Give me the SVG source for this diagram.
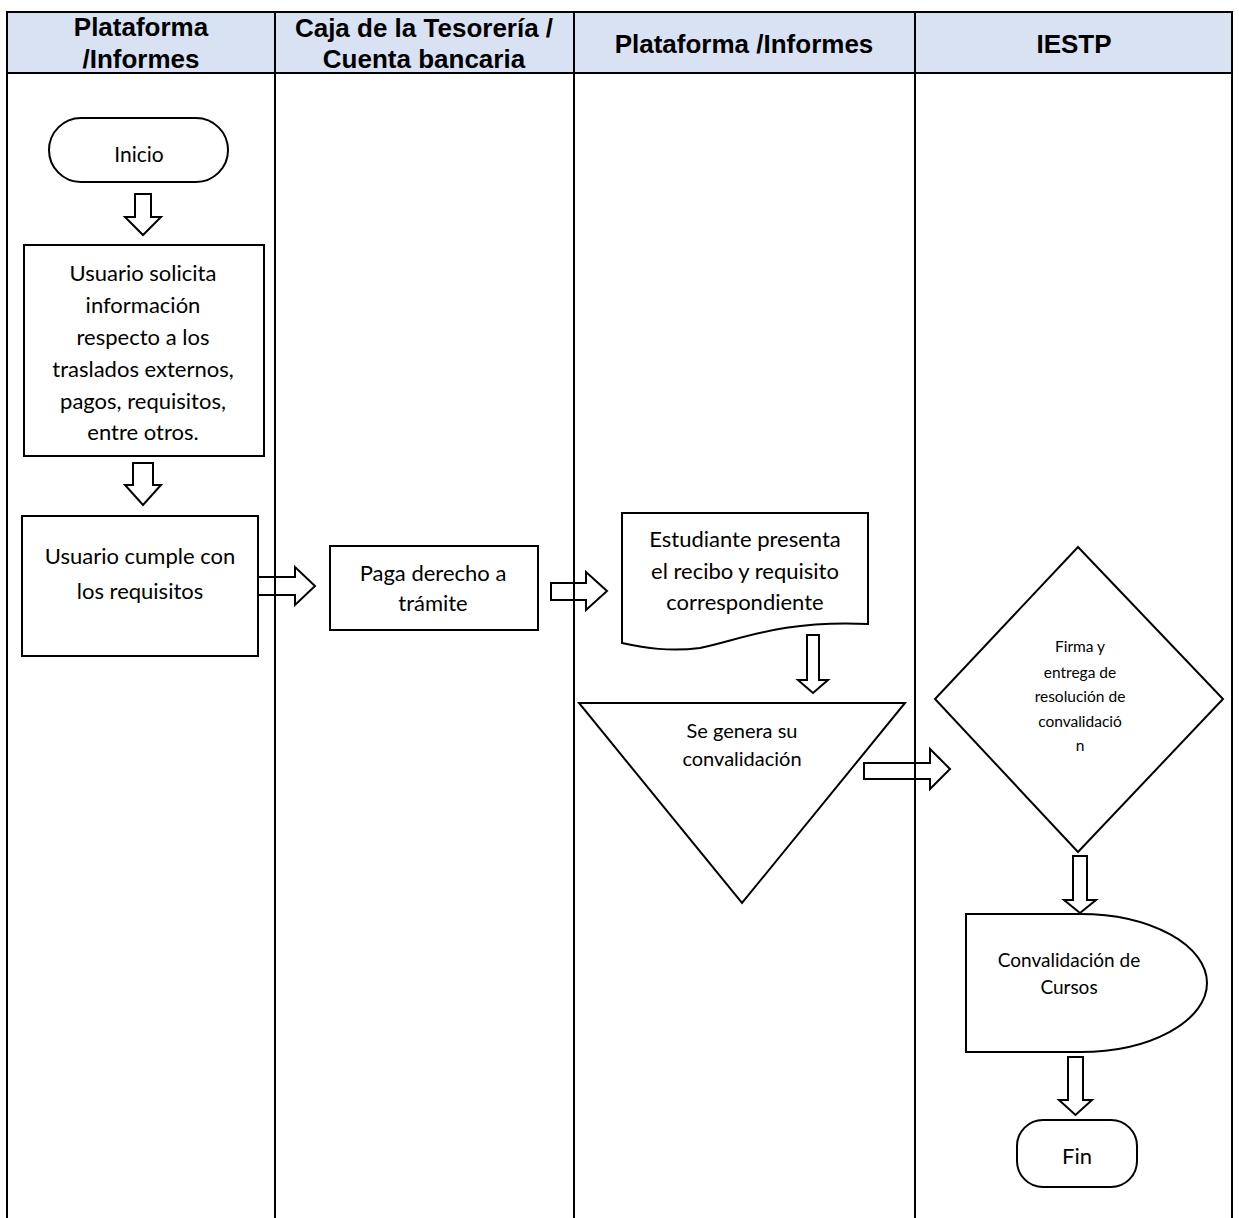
<svg xmlns="http://www.w3.org/2000/svg" width="1239" height="1218" viewBox="0 0 1239 1218">
  <style>
    .lane { stroke: #000; stroke-width: 2; fill: none; }
    .hdr { fill: #D9E2F3; }
    .htxt { font-family: "Liberation Sans", Arial, sans-serif; font-weight: bold; font-size: 26px; fill: #000; text-anchor: middle; }
    .shape { fill: #fff; stroke: #000; stroke-width: 2; }
    .arrow { fill: #fff; stroke: #000; stroke-width: 2; stroke-linejoin: miter; }
    .t22 { font-family: Lato, "Open Sans", sans-serif; font-size: 22px; fill: #000; text-anchor: middle; }
    .t20 { font-family: Lato, "Open Sans", sans-serif; font-size: 20px; fill: #000; text-anchor: middle; }
    .t19 { font-family: Lato, "Open Sans", sans-serif; font-size: 19px; fill: #000; text-anchor: middle; }
    .t15 { font-family: Lato, "Open Sans", sans-serif; font-size: 15.5px; fill: #000; text-anchor: middle; }
  </style>

  <rect width="1239" height="1218" fill="#fff"/>

  <!-- header band -->
  <rect class="hdr" x="7" y="12" width="1225" height="61"/>
  <g id="headers">
    <text class="htxt" x="141" y="36">Plataforma</text>
    <text class="htxt" x="141" y="68">/Informes</text>
    <text class="htxt" x="424" y="37">Caja de la Tesorería /</text>
    <text class="htxt" x="424" y="68">Cuenta bancaria</text>
    <text class="htxt" x="744" y="53">Plataforma /Informes</text>
    <text class="htxt" x="1074" y="53">IESTP</text>
  </g>

  <!-- connectors: block arrows -->
  <g id="connectors">
    <path class="arrow" d="M135,194 H151 V217 H161 L143,235 L125,217 H135 Z"/>
    <path class="arrow" d="M133,463 H153 V485 H161 L143,505 L125,485 H133 Z"/>
    <path class="arrow" d="M258,577 H295 V567 L315,586 L295,605 V595 H258 Z"/>
    <path class="arrow" d="M551,583 H586 V572 L607,591 L586,610 V600 H551 Z"/>
    <path class="arrow" d="M807,635 H819 V680 H828 L813,693 L798,680 H807 Z"/>
    <path class="arrow" d="M864,763 H930 V749 L950,769 L930,789 V779 H864 Z"/>
    <path class="arrow" d="M1073,856 H1087 V900 H1096 L1080,913 L1064,900 H1073 Z"/>
    <path class="arrow" d="M1068,1057 H1083 V1100 H1092 L1075.5,1115 L1059,1100 H1068 Z"/>
  </g>

  <!-- swimlane grid -->
  <g id="lanes">
    <line class="lane" x1="6" y1="12" x2="1233" y2="12"/>
    <line class="lane" x1="6" y1="73" x2="1233" y2="73"/>
    <line class="lane" x1="7" y1="11" x2="7" y2="1218"/>
    <line class="lane" x1="275" y1="11" x2="275" y2="1218"/>
    <line class="lane" x1="574" y1="11" x2="574" y2="1218"/>
    <line class="lane" x1="915" y1="11" x2="915" y2="1218"/>
    <line class="lane" x1="1232" y1="11" x2="1232" y2="1218"/>
  </g>

  <g id="inicio">
    <rect class="shape" x="49" y="118" width="179" height="64" rx="32" ry="32"/>
    <text class="t20" x="139" y="162" style="font-size:21px">Inicio</text>
  </g>

  <g id="solicita">
    <rect class="shape" x="24" y="245" width="240" height="211"/>
    <text class="t22" x="143" y="281">Usuario solicita</text>
    <text class="t22" x="143" y="313">información</text>
    <text class="t22" x="143" y="345">respecto a los</text>
    <text class="t22" x="143" y="377">traslados externos,</text>
    <text class="t22" x="143" y="409">pagos, requisitos,</text>
    <text class="t22" x="143" y="440">entre otros.</text>
  </g>

  <g id="cumple">
    <rect class="shape" x="22" y="516" width="236" height="140"/>
    <text class="t22" x="140" y="564">Usuario cumple con</text>
    <text class="t22" x="140" y="599">los requisitos</text>
  </g>

  <g id="paga">
    <rect class="shape" x="330" y="546" width="208" height="84"/>
    <text class="t22" x="433" y="581">Paga derecho a</text>
    <text class="t22" x="433" y="611">trámite</text>
  </g>

  <g id="presenta">
    <path class="shape" d="M622,513 H868 V624 C780,620 740,640 700,648 C670,652 645,648 622,643 Z"/>
    <text class="t22" x="745" y="547">Estudiante presenta</text>
    <text class="t22" x="745" y="579">el recibo y requisito</text>
    <text class="t22" x="745" y="610">correspondiente</text>
  </g>

  <g id="genera">
    <path class="shape" d="M579,703 H905 L742,903 Z"/>
    <text class="t20" x="742" y="738">Se genera su</text>
    <text class="t20" x="742" y="766">convalidación</text>
  </g>

  <g id="firma">
    <path class="shape" d="M1078,547 L1223,699 L1078,852 L935,699 Z"/>
    <text class="t15" x="1080" y="652">Firma y</text>
    <text class="t15" x="1080" y="678">entrega de</text>
    <text class="t15" x="1080" y="702">resolución de</text>
    <text class="t15" x="1080" y="727">convalidació</text>
    <text class="t15" x="1080" y="751">n</text>
  </g>

  <g id="cursos">
    <path class="shape" d="M966,914 H1080 A127,69 0 0 1 1080,1052 H966 Z"/>
    <text class="t19" x="1069" y="967">Convalidación de</text>
    <text class="t19" x="1069" y="994">Cursos</text>
  </g>

  <g id="fin">
    <rect class="shape" x="1017" y="1120" width="120" height="67" rx="26" ry="26"/>
    <text class="t22" x="1077" y="1164">Fin</text>
  </g>
</svg>
